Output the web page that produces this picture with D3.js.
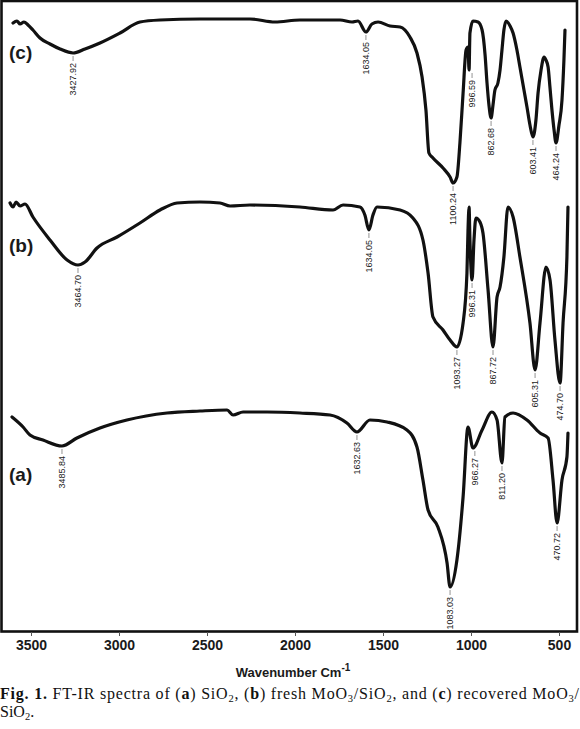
<!DOCTYPE html>
<html><head><meta charset="utf-8">
<script src="https://cdn.jsdelivr.net/npm/d3@7"></script>
<style>body{margin:0;background:#fff}svg{display:block}</style>
</head><body><svg id="c" width="580" height="729"></svg>
<script>
// ---------- data ----------
const xTicks = [3500, 3000, 2500, 2000, 1500, 1000, 500];
const seriesNames = ["(a)", "(b)", "(c)"];

// (c) recovered MoO3/SiO2
const waveC = [3602,3580,3562,3540,3517,3489,3449,3392,3335,3261,3193,3108,2994,2881,2767,2540,2256,2114,1972,1744,1676,1642,1597,1563,1528,1460,1403,1347,1307,1278,1256,1239,1216,1159,1119,1102,1080,1063,1045,1028,1017,1011,1006,989,960,937,920,909,898,886,875,864,847,835,824,813,801,778,761,739,722,699,682,665,648,631,619,602,585,574,562,551,540,528,517,500,483,472,466];
const transC = [121.8,122.2,121.6,122.0,121.4,120.4,118.8,117.6,116.6,115.8,116.6,117.8,119.8,122.0,122.4,122.6,122.6,122.0,122.4,122.4,122.0,122.2,120.0,121.6,122.0,121.2,121.0,119.0,115.8,111.0,104.4,95.8,94.8,92.8,91.0,89.8,91.0,97.8,107.8,116.4,117.0,112.4,119.8,122.2,122.0,120.4,115.4,109.8,105.4,102.8,105.4,108.4,109.8,112.4,116.4,120.4,122.2,121.2,119.8,116.4,113.0,108.4,105.0,101.4,99.0,102.4,107.8,112.4,115.0,114.4,113.0,108.8,104.4,100.4,97.8,101.4,106.4,114.4,120.4];

// (b) fresh MoO3/SiO2
const waveB = [3619,3602,3585,3562,3534,3489,3392,3295,3233,3193,3125,3011,2881,2767,2670,2540,2426,2369,2256,1972,1784,1727,1631,1603,1580,1557,1534,1403,1330,1273,1244,1216,1159,1119,1080,1045,1023,1017,1011,1006,994,983,972,949,932,903,875,852,835,813,790,761,722,665,636,608,574,551,523,494,477,455,449];
const transB = [85.8,85.0,86.0,85.2,85.6,83.0,78.4,74.4,73.4,74.0,76.8,79.0,81.8,84.4,85.8,86.0,85.8,85.2,85.4,85.0,84.4,85.4,85.0,83.4,80.4,83.4,85.0,84.4,82.8,78.4,71.8,63.0,60.4,58.4,57.0,61.8,71.8,80.4,85.0,78.4,70.4,78.4,82.8,82.0,79.8,68.4,57.0,67.0,69.0,75.0,85.0,83.0,75.0,61.8,52.4,61.8,73.0,70.4,58.4,49.8,61.8,75.0,85.0];

// (a) SiO2
const waveA = [3608,3545,3506,3432,3324,3239,3108,2955,2727,2540,2386,2352,2295,2159,1972,1801,1705,1648,1574,1477,1364,1307,1273,1244,1188,1136,1119,1080,1045,1017,989,937,881,852,824,807,761,682,608,562,534,511,483,455,449];
const transA = [43.0,41.0,39.4,38.4,37.2,38.8,40.8,42.4,43.8,44.2,44.4,43.4,44.0,44.0,43.8,43.4,41.8,40.0,42.4,42.0,40.4,37.0,30.4,24.4,21.0,13.8,9.0,14.4,27.0,41.0,36.8,40.4,44.0,42.4,33.8,43.0,43.8,42.4,39.8,38.8,30.4,21.8,30.4,35.0,39.8];

// peak annotations: printed label, position on axis, transmittance at the peak
const peakTextC = ["3427.92","1634.05","1100.24","996.59","862.68","603.41","464.24"];
const peakWaveC = [3261,1597,1102,994,886,648,517];
const peakTransC = [115.8,120.0,89.8,112.4,102.8,99.0,97.8];
const peakTextB = ["3464.70","1634.05","1093.27","996.31","867.72","605.31","474.70"];
const peakWaveB = [3233,1580,1080,994,875,636,494];
const peakTransB = [73.4,80.4,57.0,70.4,57.0,52.4,49.8];
const peakTextA = ["3485.84","1632.63","1083.03","966.27","811.20","470.72"];
const peakWaveA = [3324,1648,1119,978,824,511];
const peakTransA = [37.2,40.0,9.0,36.8,33.8,21.8];

// ---------- drawing ----------
const svg = d3.select("#c");
svg.append("rect").attr("width",580).attr("height",729).attr("fill","#fff");

const x = d3.scaleLinear().domain([3500, 500]).range([31, 559]);
const y = d3.scaleLinear().domain([0, 126]).range([632, 2]);

// frame
svg.append("rect").attr("x",1.5).attr("y",1).attr("width",575.5).attr("height",630.5)
  .attr("fill","none").attr("stroke","#111").attr("stroke-width",2.6);

// axis
const ax = svg.append("g").attr("transform","translate(0,632)")
  .call(d3.axisBottom(x).tickValues(xTicks).tickSize(4).tickPadding(4).tickFormat(d3.format("d")));
ax.select(".domain").remove();
ax.selectAll("line").attr("stroke","#555").attr("stroke-width",1);
ax.selectAll("text").attr("font-family","Liberation Sans, Arial, sans-serif")
  .attr("font-size",14).attr("font-weight","bold").attr("fill","#1a1a1a");

// axis title
const at = svg.append("text").attr("x",293).attr("y",677).attr("text-anchor","middle")
  .attr("font-family","Liberation Sans, Arial, sans-serif").attr("font-size",13)
  .attr("font-weight","bold").attr("fill","#1a1a1a");
at.append("tspan").text("Wavenumber Cm");
at.append("tspan").attr("dy",-6).attr("font-size",10).text("-1");

// curves
const line = d3.line().x(d => x(d[0])).y(d => y(d[1])).curve(d3.curveMonotoneX);
const series = [
  {w: waveA, t: transA, name: seriesNames[0], pt: peakTextA, pw: peakWaveA, pv: peakTransA},
  {w: waveB, t: transB, name: seriesNames[1], pt: peakTextB, pw: peakWaveB, pv: peakTransB},
  {w: waveC, t: transC, name: seriesNames[2], pt: peakTextC, pw: peakWaveC, pv: peakTransC}
];
series.forEach(s => {
  const pts = s.w.map((w,i) => [w, s.t[i]]);
  svg.append("path").datum(pts).attr("d", line).attr("fill","none")
    .attr("stroke","#111").attr("stroke-width",3.2).attr("stroke-linejoin","round").attr("stroke-linecap","round");
  s.pt.forEach((txt,i) => {
    const px = x(s.pw[i]), py = y(s.pv[i]);
    svg.append("line").attr("x1",px).attr("x2",px).attr("y1",py+3).attr("y2",py+8)
      .attr("stroke","#777").attr("stroke-width",0.8);
    svg.append("text").attr("transform",`translate(${px+3},${py+10}) rotate(-90)`)
      .attr("text-anchor","end").attr("font-family","Liberation Sans, Arial, sans-serif")
      .attr("font-size",9).attr("fill","#222").text(txt);
  });
});

// series labels
const labY = [481, 252, 59];
series.forEach((s,i) => {
  svg.append("text").attr("x",9).attr("y",labY[i]).attr("font-family","Liberation Sans, Arial, sans-serif")
    .attr("font-size",19).attr("font-weight","bold").attr("fill","#1a1a1a").text(s.name);
});

// caption
const cap = svg.append("g").attr("font-family","Liberation Serif, Times New Roman, serif").attr("fill","#111");
function addParts(el, parts){
  let shift = 0;
  parts.forEach(p => {
    const t = el.append("tspan").text(p[0]);
    if (p[1]==="b") t.attr("font-weight","bold");
    if (p[1]==="s") { t.attr("font-size",10.5).attr("dy",3); shift = -3; }
    else if (shift) { t.attr("dy",shift); shift = 0; }
  });
}
const l1 = cap.append("text").attr("x",0).attr("y",699).attr("font-size",16)
  .attr("textLength",579).attr("lengthAdjust","spacing");
addParts(l1, [["Fig. 1.","b"],[" FT-IR spectra of (",""],["a","b"],[") SiO",""],["2","s"],[", (",""],["b","b"],[") fresh MoO",""],["3","s"],["/SiO",""],["2","s"],[", and (",""],["c","b"],[") recovered MoO",""],["3","s"],["/",""]]);
const l2 = cap.append("text").attr("x",0).attr("y",717).attr("font-size",16);
addParts(l2, [["SiO",""],["2","s"],[".",""]]);
</script></body></html>
